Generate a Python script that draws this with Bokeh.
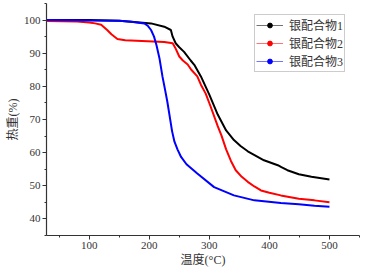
from bokeh.plotting import figure
from bokeh.models import FixedTicker, Range1d, Legend, LegendItem
from bokeh.embed import file_html
from bokeh.resources import INLINE

# data
t1 = [30, 100, 150, 170, 203, 225, 236, 239, 244, 250, 258, 269, 275, 286, 300, 314, 328, 341, 352, 364, 391, 414, 420, 430, 449, 470, 500]
w1 = [100, 100, 99.8, 99.5, 99.0, 98.0, 97, 95, 93, 91.8, 90.4, 87.8, 86.5, 83, 77.5, 71.5, 66.7, 63.8, 62, 60.4, 57.7, 56.2, 55.6, 54.7, 53.5, 52.7, 51.9]
t2 = [30, 80, 100, 110, 120, 130, 137, 147, 160, 225, 239, 244, 250, 256, 264, 270, 280, 286, 294, 302, 314, 320, 328, 336, 344, 354, 364, 375, 386, 400, 419, 449, 475, 500]
w2 = [99.7, 99.6, 99.3, 99, 98.6, 97, 95.7, 94.3, 93.9, 93.4, 93, 91.4, 89, 87.8, 86.6, 85, 83, 80.5, 77.8, 74, 68, 65.3, 61, 57.5, 54.7, 52.7, 51.2, 49.8, 48.6, 47.9, 47.1, 46.1, 45.6, 45]
t3 = [30, 100, 150, 170, 192, 198, 203, 208, 212, 217, 222, 226, 230, 234, 238, 242, 247, 253, 262, 280, 308, 341, 375, 419, 449, 475, 500]
w3 = [100, 99.9, 99.8, 99.5, 99, 98.2, 97, 95, 92.5, 88.5, 83, 79.3, 75.5, 71, 66.5, 63.3, 61, 58.7, 56.5, 53.7, 49.6, 47.1, 45.6, 44.8, 44.4, 44.0, 43.7]
names = ["银配合物1", "银配合物2", "银配合物3"]
colors = ["#000000", "#ff0000", "#0000ff"]
x_ticks = [100, 200, 300, 400, 500]
y_ticks = [40, 50, 60, 70, 80, 90, 100]
x_title = "温度(°C)"
y_title = "热重(%)"

SERIF = "'Liberation Serif', 'Noto Sans CJK SC'"

p = figure(width=366, height=272, output_backend="svg", toolbar_location=None,
           x_range=Range1d(29, 550), y_range=Range1d(35, 105),
           min_border_left=46, min_border_right=7, min_border_top=3, min_border_bottom=37)
p.xgrid.visible = False
p.ygrid.visible = False
p.outline_line_color = None
p.background_fill_color = "white"

p.xaxis.ticker = FixedTicker(ticks=x_ticks, minor_ticks=[50, 150, 250, 350, 450, 550])
p.yaxis.ticker = FixedTicker(ticks=y_ticks, minor_ticks=[35, 45, 55, 65, 75, 85, 95, 105])
for ax in (p.xaxis[0], p.yaxis[0]):
    ax.axis_line_color = "#333333"
    ax.axis_line_width = 1.2
    ax.major_tick_line_color = "#333333"
    ax.minor_tick_line_color = "#333333"
    ax.major_tick_in = 0
    ax.major_tick_out = 4
    ax.minor_tick_in = 0
    ax.minor_tick_out = 2
    ax.major_label_text_font = SERIF
    ax.major_label_text_font_size = "11px"
    ax.major_label_text_color = "#333333"
    ax.major_label_standoff = 2
    ax.axis_label_text_font = SERIF
    ax.axis_label_text_font_size = "12px"
    ax.axis_label_text_font_style = "normal"
    ax.axis_label_text_color = "#333333"
    ax.axis_label_standoff = 1
p.xaxis.axis_label = x_title
p.yaxis.axis_label = y_title

items = []
for t, w, name, c in zip([t1, t2, t3], [w1, w2, w3], names, colors):
    p.line(t, w, line_color=c, line_width=2)
    lr = p.line([-1000, -999], [0, 0], line_color=c, line_width=1, line_alpha=0.55)
    sr = p.scatter([-1000], [0], marker="circle", size=2.5, fill_color=c, line_color=c)
    items.append(LegendItem(label=name, renderers=[lr, sr]))

leg = Legend(items=items, location=(208, 163))
leg.label_text_font = SERIF
leg.label_text_font_size = "12px"
leg.label_text_color = "#333333"
leg.glyph_width = 27
leg.glyph_height = 12
leg.label_height = 12
leg.spacing = -6
leg.padding = 1
leg.margin = 0
leg.label_standoff = 6
leg.border_line_color = "#999999"
leg.border_line_width = 1
leg.background_fill_alpha = 1
p.add_layout(leg, "center")

open("out.html", "w").write(file_html(p, INLINE))
